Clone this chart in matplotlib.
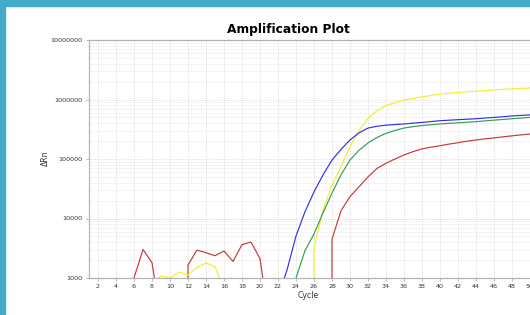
import numpy as np
import matplotlib
matplotlib.use("Agg")
import matplotlib.pyplot as plt
from matplotlib import ticker
from matplotlib.patches import Rectangle

# cycle numbers and delta Rn per well (values below zero sit under the log axis)
cycles = list(range(1, 51))

red = [-500, -800, -300, -600, -200, 1000, 3030, 1800, 200, -400,
       -900, 1650, 2950, 2660, 2370, 2840, 1900, 3630, 4030, 2110,
       180, -600, -1200, -800, -1500, -900, -2000, 4500, 13500, 23300,
       34000, 50000, 69500, 85000, 100000, 117000, 133000, 148000, 158000, 167000,
       178000, 188000, 199000, 209000, 218000, 226000, 236000, 245000, 254000, 263000]

yellow = [-300, -700, -400, -900, -500, -200, -600, 840, 1080, 1000,
          1260, 1120, 1510, 1790, 1550, 650, -300, -800, -500, -1000,
          -400, -700, -900, -600, -700, 3200, 13900, 36700, 74000, 161000,
          300000, 480000, 650000, 790000, 880000, 980000, 1040000, 1110000, 1170000, 1230000,
          1270000, 1310000, 1345000, 1380000, 1410000, 1450000, 1480000, 1510000, 1535000, 1560000]

green = [-400, -600, -900, -300, -700, -500, -800, -400, -600, -900,
         -500, -700, -300, -600, -800, -400, -700, -500, -900, -600,
         -800, -500, -700, 1000, 2880, 5500, 12400, 26800, 54000, 96000,
         140000, 186000, 230000, 270000, 302000, 331000, 350000, 365000, 377000, 388000,
         397000, 406000, 415000, 424000, 437000, 450000, 462000, 475000, 488000, 500000]

blue = [-600, -400, -800, -500, -300, -700, -900, -600, -400, -800,
        -500, -700, -300, -900, -600, -400, -800, -500, -700, -600,
        -400, 490, 1360, 5080, 13000, 28000, 54000, 96000, 145000, 209000,
        275000, 331000, 355000, 370000, 380000, 388000, 400000, 412000, 426000, 440000,
        449000, 458000, 466000, 475000, 488000, 500000, 513000, 530000, 540000, 550000]

series = [(red, "#c83838"), (yellow, "#f2ef2a"), (green, "#2f9e5a"), (blue, "#3030f0")]

y_ticks = [1e3, 1e4, 1e5, 1e6, 1e7]
x_ticks = list(range(2, 51, 2))

W, H = 530, 315
fig = plt.figure(figsize=(W / 100, H / 100), dpi=100)
fig.patch.set_facecolor("white")

# cyan frame strips on the left and top
fig.patches.append(Rectangle((0, 0), 5 / W, 1, transform=fig.transFigure,
                             color="#42acc8", zorder=0))
fig.patches.append(Rectangle((0, 1 - 6 / H), 1, 6 / H, transform=fig.transFigure,
                             color="#42acc8", zorder=0))

ax = fig.add_axes([89 / W, 1 - 278 / H, 441 / W, 238 / H])
for data, c in series:
    ax.plot(cycles, data, color=c, lw=0.85)

ax.set_yscale("log", nonpositive="clip")
ax.set_xlim(1, 50)
ax.set_ylim(1e3, 1e7)
ax.set_xticks(x_ticks)
ax.set_yticks(y_ticks)
ax.yaxis.set_major_formatter(ticker.FuncFormatter(lambda v, _: f"{v:.0f}"))
ax.yaxis.set_minor_locator(ticker.LogLocator(base=10, subs=range(2, 10)))
ax.yaxis.set_minor_formatter(ticker.NullFormatter())

ax.grid(True, which="major", color="#d8d8d8", ls=(0, (1.2, 1.2)), lw=0.55)
ax.grid(True, which="minor", axis="y", color="#dedede", ls=(0, (1.2, 1.2)), lw=0.5)
ax.set_axisbelow(True)
ax.tick_params(which="major", labelsize=4.6, length=2.5, width=0.5,
               color="#9a9a9a", labelcolor="#333333", pad=2)
ax.tick_params(which="minor", length=0)

for s in ["left", "bottom", "top"]:
    ax.spines[s].set_color("#b4b4b4")
    ax.spines[s].set_linewidth(0.9)
ax.spines["right"].set_visible(False)

fig.text(288 / W, 1 - 30 / H, "Amplification Plot", ha="center", va="center",
         fontsize=8.8, fontweight="bold")
fig.text(308 / W, 1 - 296 / H, "Cycle", ha="center", va="center",
         fontsize=5.6, color="#333333")
fig.text(45 / W, 1 - 158 / H, "ΔRn", ha="center", va="center",
         fontsize=5.6, rotation=90, color="#333333")

fig.savefig("out.png", dpi=100)
